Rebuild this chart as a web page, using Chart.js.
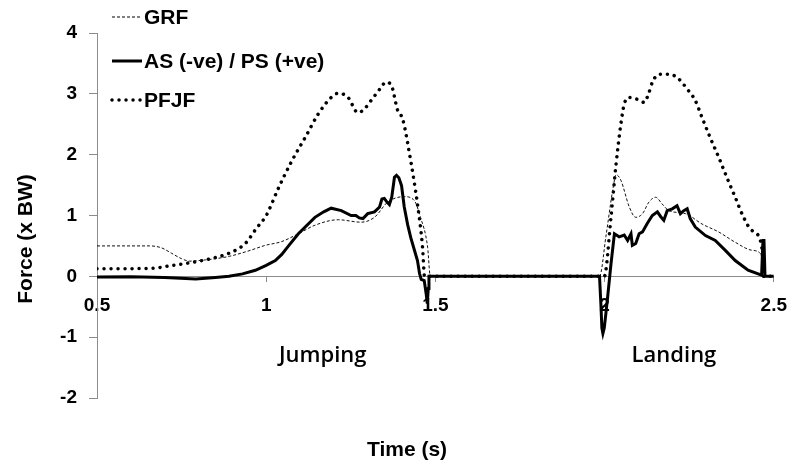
<!DOCTYPE html>
<html>
<head>
<meta charset="utf-8">
<script src="https://cdn.jsdelivr.net/npm/chart.js@4/dist/chart.umd.min.js"></script>
<style>
  html,body{margin:0;padding:0;background:#fff;}
  #wrap{width:800px;height:471px;}
</style>
</head>
<body>
<div id="wrap"><canvas id="forceChart" width="800" height="471"></canvas></div>
<script>
// Fuerzas (x BW) en salto y aterrizaje
const xTicks = [0.5, 1, 1.5, 2, 2.5];
const yTicks = [-2, -1, 0, 1, 2, 3, 4];

const grfTime  = [0.5,0.655,0.69,0.72,0.75,0.773,0.82,0.85,0.892,0.949,0.998,1.045,1.095,1.144,1.213,1.28,1.32,1.359,1.408,1.437,1.456,1.477,1.485,1.985,2.004,2.025,2.034,2.048,2.073,2.092,2.112,2.131,2.151,2.17,2.19,2.239,2.288,2.337,2.386,2.434,2.464,2.472,2.5];
const grfForce = [0.50,0.50,0.47,0.38,0.29,0.25,0.27,0.29,0.33,0.42,0.51,0.57,0.70,0.84,0.93,0.89,0.97,1.22,1.31,1.25,0.97,0.48,0.0,0,0.66,1.45,1.67,1.58,1.14,0.97,1.03,1.22,1.30,1.19,1.08,1.03,0.86,0.73,0.56,0.43,0.35,0.0,0];

const asTime  = [0.5,0.6,0.7,0.792,0.85,0.89,0.93,0.968,1.0,1.027,1.046,1.066,1.095,1.144,1.17,1.192,1.222,1.251,1.265,1.275,1.286,1.30,1.32,1.335,1.342,1.349,1.357,1.364,1.371,1.379,1.385,1.392,1.40,1.408,1.418,1.427,1.437,1.447,1.453,1.458,1.467,1.473,1.476,1.479,1.481,1.985,1.989,1.992,1.995,1.999,2.004,2.009,2.019,2.029,2.043,2.058,2.068,2.078,2.082,2.092,2.102,2.112,2.126,2.141,2.156,2.166,2.175,2.185,2.2,2.214,2.224,2.234,2.244,2.253,2.268,2.298,2.327,2.356,2.386,2.424,2.464,2.468,2.471,2.474,2.5];
const asForce = [-0.01,-0.005,-0.02,-0.045,-0.02,0.0,0.04,0.10,0.18,0.26,0.36,0.50,0.70,0.97,1.06,1.12,1.08,1.0,1.0,0.96,0.95,1.03,1.06,1.14,1.27,1.28,1.22,1.18,1.30,1.63,1.66,1.62,1.49,1.14,0.85,0.64,0.45,0.26,0.05,-0.05,-0.07,-0.3,-0.45,-0.2,0,0,-0.45,-0.85,-0.94,-0.85,-0.6,-0.34,0.21,0.70,0.65,0.68,0.59,0.70,0.51,0.54,0.70,0.73,0.87,1.0,1.06,0.98,0.92,1.08,1.11,1.16,1.03,1.08,1.11,0.95,0.81,0.67,0.59,0.43,0.26,0.10,0.02,0.59,0.59,0,0];

const pfjfTime  = [0.5,0.655,0.723,0.802,0.87,0.91,0.94,0.97,1.0,1.037,1.076,1.115,1.154,1.192,1.213,1.242,1.271,1.29,1.31,1.339,1.353,1.368,1.389,1.403,1.427,1.447,1.462,1.468,1.999,2.019,2.034,2.048,2.058,2.073,2.097,2.117,2.131,2.141,2.161,2.19,2.214,2.244,2.268,2.288,2.312,2.337,2.361,2.386,2.41,2.434,2.464,2.47,2.5];
const pfjfForce = [0.125,0.13,0.18,0.25,0.34,0.43,0.55,0.78,1.0,1.46,1.90,2.28,2.67,2.94,3.01,2.94,2.69,2.75,2.89,3.10,3.19,3.16,2.72,2.59,1.90,1.19,0.48,0,0,0.98,1.85,2.50,2.83,2.94,2.91,2.86,3.02,3.19,3.32,3.32,3.27,3.08,2.89,2.61,2.28,1.96,1.63,1.30,0.98,0.76,0.51,0,0];

const seriesNames = ['GRF', 'AS (-ve) / PS (+ve)', 'PFJF'];
const phaseLabels = [{text:'Jumping', x:1.167, y:-1.3}, {text:'Landing', x:2.205, y:-1.3}];

const AXIS_GREY = '#8c8c8c';
const TICK_FONT = {family:"'Liberation Sans', Arial, sans-serif", size:19, weight:'bold'};

function pts(t, f){ return t.map((x,i)=>({x, y:f[i]})); }

// leyenda, títulos de ejes y etiquetas de fase dibujadas a mano
const overlay = {
  id:'overlay',
  afterDraw(chart){
    const ctx = chart.ctx;
    const sx = chart.scales.x, sy = chart.scales.y;
    ctx.save();
    ctx.fillStyle = '#000';
    ctx.strokeStyle = '#000';

    // leyenda
    const rows = [
      {y:17, w:1, dash:[3,2], cap:'butt'},
      {y:61, w:3, dash:[], cap:'butt'},
      {y:100, w:3.5, dash:[0.01,7], cap:'round'}
    ];
    ctx.font = "bold 21px 'Liberation Sans', Arial, sans-serif";
    ctx.textBaseline = 'middle';
    ctx.textAlign = 'left';
    rows.forEach((r,i)=>{
      ctx.beginPath();
      ctx.lineWidth = r.w;
      ctx.lineCap = r.cap;
      ctx.setLineDash(r.dash);
      ctx.moveTo(112, r.y);
      ctx.lineTo(142, r.y);
      ctx.stroke();
      ctx.fillText(seriesNames[i], 144, r.y + 1);
    });
    ctx.setLineDash([]);

    // títulos
    ctx.font = "bold 21px 'Liberation Sans', Arial, sans-serif";
    ctx.save();
    ctx.translate(26, 239);
    ctx.rotate(-Math.PI/2);
    ctx.textAlign = 'center';
    ctx.fillText('Force (x BW)', 0, 0);
    ctx.restore();

    ctx.font = "bold 21px 'Liberation Sans Narrow', 'Liberation Sans', Arial, sans-serif";
    ctx.textAlign = 'center';
    ctx.fillText('Time (s)', 407, 450);

    // fases
    ctx.font = "600 22px 'Open Sans', sans-serif";
    phaseLabels.forEach(p=>{
      ctx.fillText(p.text, sx.getPixelForValue(p.x), sy.getPixelForValue(p.y));
    });
    ctx.restore();
  }
};

new Chart(document.getElementById('forceChart'), {
  type:'line',
  data:{
    datasets:[
      {label:seriesNames[1], data:pts(asTime, asForce), borderColor:'#000', borderWidth:3, pointRadius:0, tension:0, order:1},
      {label:seriesNames[0], data:pts(grfTime, grfForce), borderColor:'#111', borderWidth:1, borderDash:[3,2], pointRadius:0, cubicInterpolationMode:'monotone', order:2},
      {label:seriesNames[2], data:pts(pfjfTime, pfjfForce), borderColor:'#000', borderWidth:3.5, borderDash:[0.01,7], borderCapStyle:'round', pointRadius:0, cubicInterpolationMode:'monotone', order:3}
    ]
  },
  options:{
    responsive:false,
    animation:false,
    layout:{padding:{left:0, top:33, right:21, bottom:73}},
    plugins:{legend:{display:false}, tooltip:{enabled:false}},
    scales:{
      x:{
        type:'linear', min:0.5, max:2.5, position:{y:0},
        afterBuildTicks: s=>{ s.ticks = xTicks.map(v=>({value:v})); },
        ticks:{color:'#000', font:TICK_FONT, padding:13, maxRotation:0, autoSkip:false, callback: v => String(v)},
        grid:{drawOnChartArea:false, drawTicks:true, tickLength:5, color:AXIS_GREY},
        border:{color:AXIS_GREY, width:1}
      },
      y:{
        min:-2, max:4,
        afterBuildTicks: s=>{ s.ticks = yTicks.map(v=>({value:v})); },
        afterFit: s=>{ s.width = 97; },
        ticks:{color:'#000', font:TICK_FONT, padding:12},
        grid:{drawOnChartArea:false, drawTicks:true, tickLength:8, color:AXIS_GREY},
        border:{color:AXIS_GREY, width:1}
      }
    }
  },
  plugins:[overlay]
});
</script>
</body>
</html>
